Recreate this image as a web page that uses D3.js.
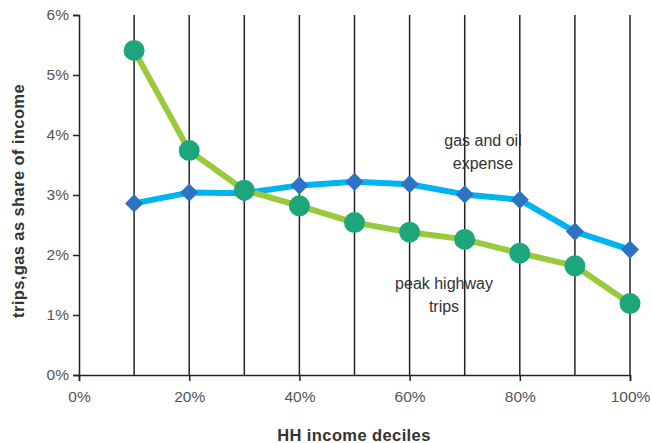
<!DOCTYPE html>
<html><head><meta charset="utf-8">
<script src="https://cdn.jsdelivr.net/npm/d3@7"></script>
<style>body{margin:0;background:#fff}svg{display:block}</style>
</head><body><svg id="c" width="652" height="443"></svg>
<script>
const deciles = [0.1,0.2,0.3,0.4,0.5,0.6,0.7,0.8,0.9,1.0];
const peakTrips = [5.41,3.74,3.08,2.82,2.54,2.38,2.26,2.03,1.82,1.19];
const gasOil = [2.86,3.04,3.03,3.16,3.22,3.18,3.01,2.92,2.39,2.09];
const xTicks = [0,0.2,0.4,0.6,0.8,1.0];
const yTicks = [0,1,2,3,4,5,6];

const svg = d3.select('#c');
const x = d3.scaleLinear().domain([0,1]).range([79,630]);
const y = d3.scaleLinear().domain([0,6]).range([375,15]);
const font = 'Liberation Sans, Arial, sans-serif';

// vertical grid lines at deciles
svg.append('g').selectAll('line').data(deciles).join('line')
  .attr('x1',d=>x(d)).attr('x2',d=>x(d)).attr('y1',y(6)).attr('y2',y(0))
  .attr('stroke','#222').attr('stroke-width',1.5);

// axes
const yAx = svg.append('g').attr('transform',`translate(${x(0)},0)`)
  .call(d3.axisLeft(y).tickValues(yTicks).tickFormat(d=>d+'%').tickSize(6).tickPadding(4));
const xAx = svg.append('g').attr('transform',`translate(0,${y(0)})`)
  .call(d3.axisBottom(x).tickValues(xTicks).tickFormat(d=>Math.round(d*100)+'%').tickSize(6).tickPadding(10));
[yAx,xAx].forEach(g=>{
  g.select('.domain').attr('stroke','#222').attr('stroke-width',1.5);
  g.selectAll('.tick line').attr('stroke','#222').attr('stroke-width',1.5);
  g.selectAll('.tick text').attr('font-family',font).attr('font-size',15.5).attr('fill','#555');
});

const line = d3.line().x((d,i)=>x(deciles[i])).y(d=>y(d));
// series
svg.append('path').datum(gasOil).attr('d',line).attr('fill','none')
  .attr('stroke','#00B4EF').attr('stroke-width',6).attr('stroke-linejoin','round');
svg.append('path').datum(peakTrips).attr('d',line).attr('fill','none')
  .attr('stroke','#9ACA3C').attr('stroke-width',6).attr('stroke-linejoin','round');

svg.append('g').selectAll('path').data(gasOil).join('path')
  .attr('d',d3.symbol().type(d3.symbolDiamond2).size(210))
  .attr('transform',(d,i)=>`translate(${x(deciles[i])},${y(d)})`)
  .attr('fill','#2E72C6');
svg.append('g').selectAll('circle').data(peakTrips).join('circle')
  .attr('cx',(d,i)=>x(deciles[i])).attr('cy',d=>y(d)).attr('r',10.5)
  .attr('fill','#1DA67B');

// annotations
const ann = [
  {t:'gas and oil', x:483, y:146},
  {t:'expense', x:483, y:169},
  {t:'peak highway', x:444, y:289},
  {t:'trips', x:444, y:312}
];
svg.append('g').selectAll('text').data(ann).join('text')
  .attr('x',d=>d.x).attr('y',d=>d.y).attr('text-anchor','middle')
  .attr('font-family',font).attr('font-size',16).attr('fill','#333').text(d=>d.t);

// axis titles
svg.append('text').attr('x',354).attr('y',441).attr('text-anchor','middle')
  .attr('font-family',font).attr('font-size',16.5).attr('font-weight','bold').attr('fill','#333')
  .attr('letter-spacing',0.4).text('HH income deciles');
svg.append('text').attr('transform','translate(24,201) rotate(-90)').attr('text-anchor','middle')
  .attr('font-family',font).attr('font-size',16.5).attr('font-weight','bold').attr('fill','#333')
  .attr('letter-spacing',0.4).text('trips,gas as share of income');
</script></body></html>
